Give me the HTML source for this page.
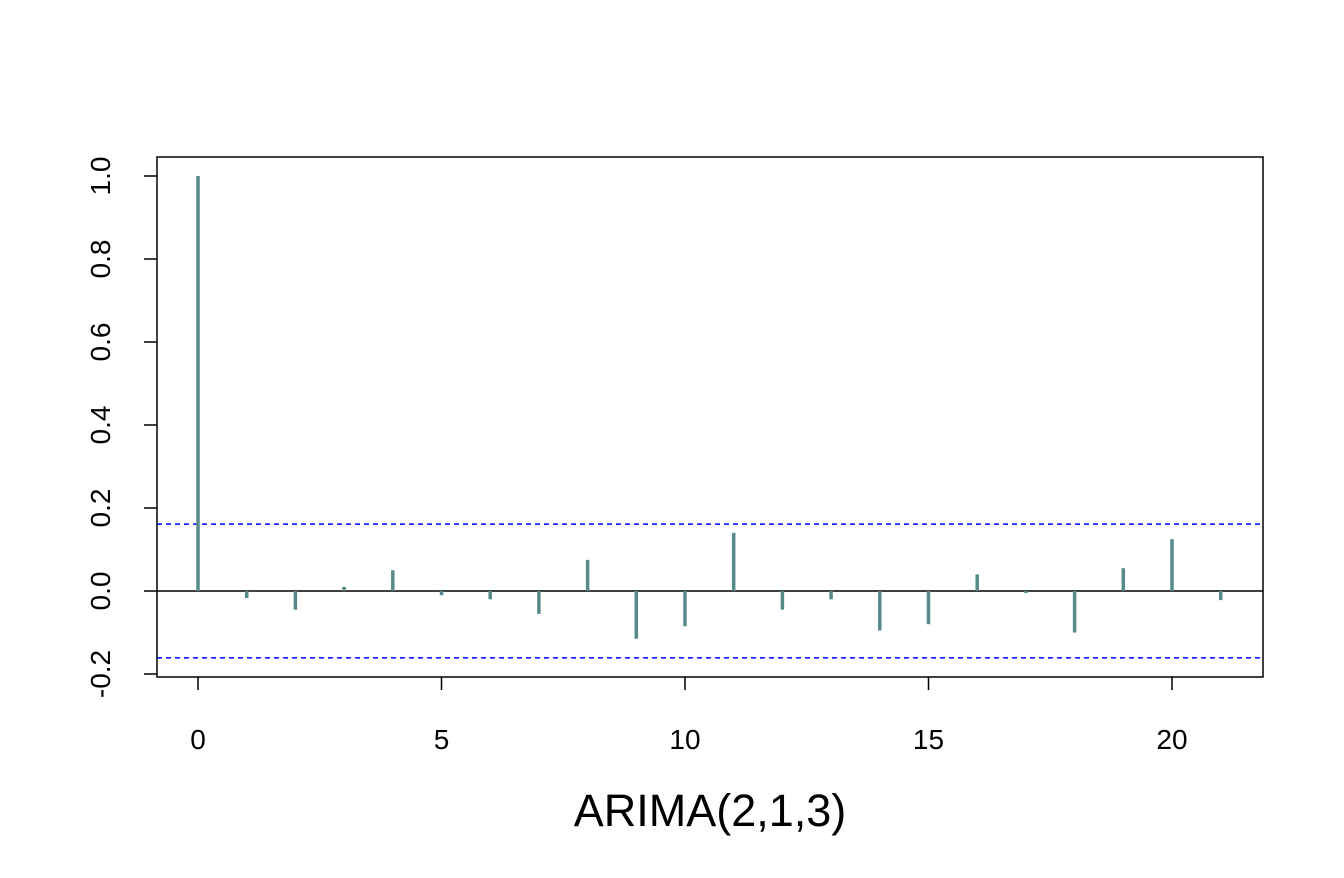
<!DOCTYPE html>
<html><head><meta charset="utf-8"><style>
html,body{margin:0;padding:0;background:#fff;}
svg text{font-family:"Liberation Sans",Arial,sans-serif;}
</style></head><body>
<svg id="chart" width="1344" height="873" xmlns="http://www.w3.org/2000/svg">
<rect x="157" y="157" width="1106" height="520" fill="none" stroke="#000" stroke-width="1.5"/>
<g id="marks"></g>
<text x="710" y="826" font-size="45" text-anchor="middle">ARIMA(2,1,3)</text>
</svg>
<script>
const lags = [0,1,2,3,4,5,6,7,8,9,10,11,12,13,14,15,16,17,18,19,20,21];
const acfValues = [1.0,-0.017,-0.045,0.01,0.05,-0.01,-0.02,-0.055,0.075,-0.115,-0.085,0.14,-0.045,-0.02,-0.095,-0.08,0.04,-0.005,-0.1,0.055,0.125,-0.022];
const confLimit = 0.161;
const xTicks = [0,5,10,15,20];
const yTicks = [-0.2,0.0,0.2,0.4,0.6,0.8,1.0];
const yTickLabels = ["-0.2","0.0","0.2","0.4","0.6","0.8","1.0"];

const X = v => 198 + v*48.7;
const Y = v => 591 - v*415;
const ns = "http://www.w3.org/2000/svg";
const svg = document.getElementById('chart');
const g = document.getElementById('marks');
function mk(tag, attrs, parent){const e=document.createElementNS(ns,tag);for(const k in attrs)e.setAttribute(k,attrs[k]);(parent||g).appendChild(e);return e;}

let z = mk('line',{x1:157,x2:1263,y1:Y(0),y2:Y(0),stroke:'#000','stroke-width':1.5});


[confLimit,-confLimit].forEach((c,i)=>{
  const l = mk('line',{x1:157,x2:1263,y1:Y(c),y2:Y(c),stroke:'#0000ff','stroke-width':1.5,'stroke-dasharray':'5,4'});
  
  
});
lags.forEach((lag,i)=>{
  const b = mk('line',{x1:X(lag),x2:X(lag),y1:Y(0),y2:Y(acfValues[i]),stroke:'#568a8a','stroke-width':3.5});
  
  
});
xTicks.forEach(t=>{
  const tk = mk('line',{x1:X(t),x2:X(t),y1:677,y2:690,stroke:'#000','stroke-width':1.5},svg);
  
  
  const tx = mk('text',{x:X(t),y:749,'font-size':28,'text-anchor':'middle'},svg);
  tx.textContent = t;
  
  
});
yTicks.forEach((t,i)=>{
  const tk = mk('line',{x1:144,x2:157,y1:Y(t),y2:Y(t),stroke:'#000','stroke-width':1.5},svg);
  
  
  const tx = mk('text',{x:0,y:0,'font-size':28,'text-anchor':'middle',transform:`translate(110,${Y(t)}) rotate(-90)`},svg);
  tx.textContent = yTickLabels[i];
  
  
});
</script>
</body></html>
